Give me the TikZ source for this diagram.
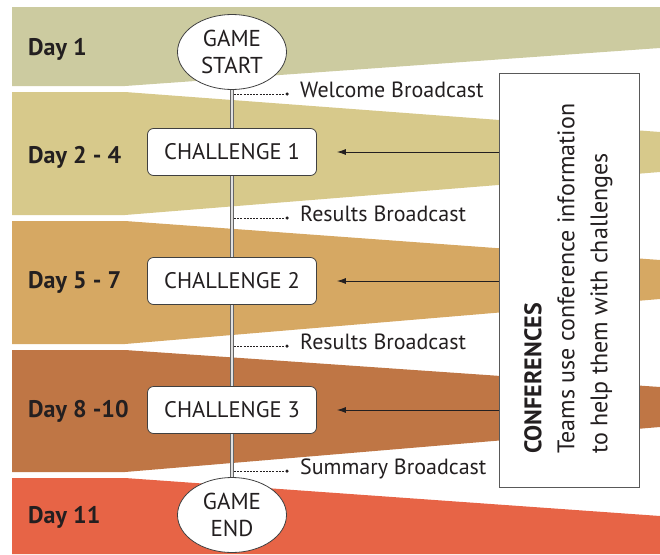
\documentclass[tikz,border=0pt]{standalone}
\usepackage{fontspec}
\setmainfont{PT Sans}
\usetikzlibrary{%
  arrows.meta,%
  shapes.geometric,% wg. ellipse
  positioning,%
  calc%
}
\definecolor{dayone}{RGB}{204,203,160}
\definecolor{daytwo}{RGB}{215,201,139}
\definecolor{dayfive}{RGB}{214,168,99}
\definecolor{dayeight}{RGB}{191,118,69}
\definecolor{dayeleven}{RGB}{231,100,70}
\definecolor{textgray}{RGB}{35,31,32}

\begin{document}
\begin{tikzpicture}
[x=1pt, y=-1pt, >={Latex[length=9pt,width=6pt]},
daylabel/.style={anchor=base west, inner sep=0pt, text=textgray, font=\fontsize{24}{28}\selectfont\bfseries},
endpoint/.style={ellipse, draw=black!75, fill=white, line width=0.8pt, minimum width=109pt, minimum height=75pt, inner sep=0pt, align=center, text=textgray, font=\fontsize{23}{27}\selectfont},
challenge/.style={rectangle, rounded corners=6pt, draw=black!75, fill=white, line width=0.8pt, minimum width=169pt, minimum height=47pt, text=textgray, font=\fontsize{22.5}{26}\selectfont},
spine/.style={draw=black!60, double=black!12, double distance=2pt, line width=0.9pt},
bcast/.style={draw=textgray, line width=0.8pt, dash pattern=on 2pt off 1.2pt},
bdot/.style={circle, fill=textgray, inner sep=0pt, minimum size=3.5pt},
btext/.style={anchor=base west, inner sep=0pt, text=textgray, font=\fontsize{22}{26}\selectfont},
confbox/.style={rectangle, draw=black!65, fill=white, line width=0.8pt, minimum width=140pt, minimum height=414pt},
conftext/.style={rotate=90, anchor=north west, inner sep=0pt, align=left, text=textgray, font=\fontsize{24}{33}\selectfont},
feed/.style={->, draw=textgray, line width=0.9pt}]

\useasboundingbox (0,0) rectangle (660,554);

\fill[dayone] (12,7) -- (660,7) -- (660,48) -- (125,86) -- (12,86) -- cycle;
\fill[daytwo] (12,92) -- (125,92) -- (660,132) -- (660,172) -- (125,215) -- (12,215) -- cycle;
\fill[dayfive] (12,221) -- (125,221) -- (660,260) -- (660,299) -- (125,344) -- (12,344) -- cycle;
\fill[dayeight] (12,350) -- (125,350) -- (660,387) -- (660,427) -- (125,472) -- (12,472) -- cycle;
\fill[dayeleven] (12,478) -- (125,478) -- (660,516) -- (660,554) -- (12,554) -- cycle;

\node[daylabel] (day1) at (28,55) {Day 1};
\node[daylabel] (day2) at (28,163) {Day 2 - 4};
\node[daylabel] (day5) at (28,288) {Day 5 - 7};
\node[daylabel] (day8) at (28,417) {Day 8 -10};
\node[daylabel] (day11) at (28,523) {Day 11};

\node[endpoint] (start) at (232,52) {GAME\\START};
\node[challenge] (c1) at (232,152) {CHALLENGE 1};
\node[challenge] (c2) at (232,281) {CHALLENGE 2};
\node[challenge] (c3) at (232,410) {CHALLENGE 3};
\node[endpoint] (end) at (232,515) {GAME\\END};

\draw[spine] (start) -- (c1);
\draw[spine] (c1) -- (c2);
\draw[spine] (c2) -- (c3);
\draw[spine] (c3) -- (end);

\coordinate (s1) at (234,94);
\coordinate (s2) at (234,218);
\coordinate (s3) at (234,346);
\coordinate (s4) at (234,471);

\node[bdot] (d1) at (287,94) {};
\node[bdot] (d2) at (287,218) {};
\node[bdot] (d3) at (287,346) {};
\node[bdot] (d4) at (287,471) {};

\draw[bcast] (s1) -- (d1);
\draw[bcast] (s2) -- (d2);
\draw[bcast] (s3) -- (d3);
\draw[bcast] (s4) -- (d4);

\node[btext] (b1) at ([xshift=13pt,yshift=-3pt]d1.center) {Welcome Broadcast};
\node[btext] (b2) at ([xshift=13pt,yshift=-3pt]d2.center) {Results Broadcast};
\node[btext] (b3) at ([xshift=13pt,yshift=-3pt]d3.center) {Results Broadcast};
\node[btext] (b4) at ([xshift=13pt,yshift=-3pt]d4.center) {Summary Broadcast};

\node[confbox] (conf) at (569,280) {};
\node[conftext] (confnote) at (524,454) {\textbf{CONFERENCES}\\Teams use conference information\\to help them with challenges};

\draw[feed] (conf.west |- c1) -- ([xshift=20pt]c1.east);
\draw[feed] (conf.west |- c2) -- ([xshift=20pt]c2.east);
\draw[feed] (conf.west |- c3) -- ([xshift=20pt]c3.east);

\end{tikzpicture}
\end{document}
